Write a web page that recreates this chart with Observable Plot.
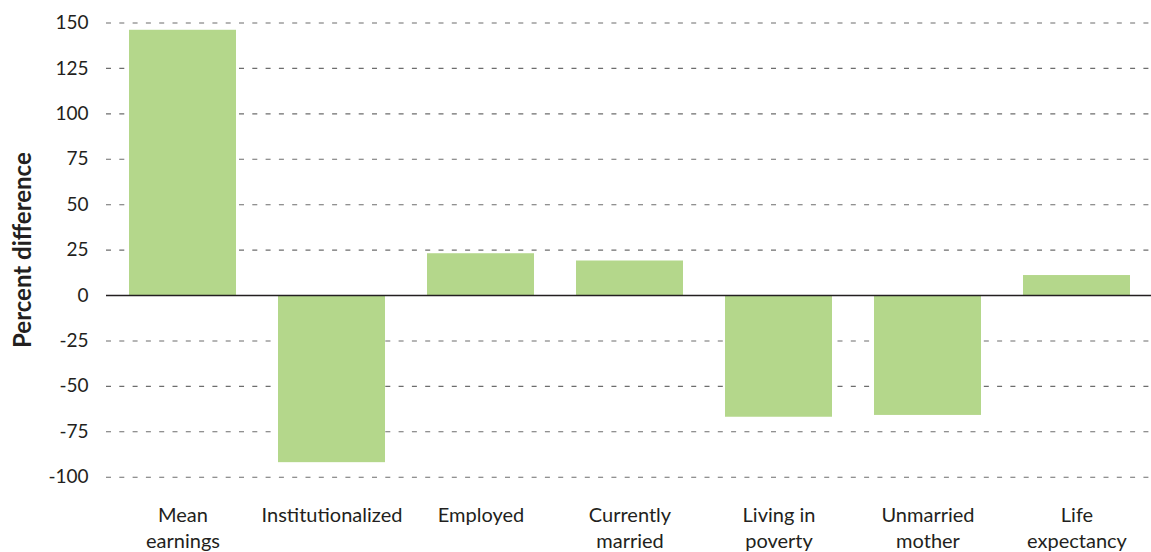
<!DOCTYPE html>
<html>
<head>
<meta charset="utf-8">
<script src="https://cdn.jsdelivr.net/npm/d3@7"></script>
<script src="https://cdn.jsdelivr.net/npm/@observablehq/plot@0.6"></script>
<style>
  html, body { margin: 0; padding: 0; background: #fff; }
  #chart svg { display: block; }
</style>
</head>
<body>
<div id="chart"></div>
<script>
const categories = ["Mean\nearnings", "Institutionalized", "Employed", "Currently\nmarried", "Living in\npoverty", "Unmarried\nmother", "Life\nexpectancy"];
const values = [146, -92, 23, 19, -67, -66, 11];
const yTicks = [-100, -75, -50, -25, 0, 25, 50, 75, 100, 125, 150];
const gridTicks = yTicks.filter(d => d !== 0);

const data = categories.map((c, i) => ({category: c, value: values[i]}));

const chart = Plot.plot({
  width: 1151,
  height: 552,
  marginTop: 22.5,
  marginBottom: 75.3,
  marginLeft: 106,
  marginRight: -3,
  style: {fontFamily: "Lato, 'Open Sans', sans-serif", fontSize: "18px", color: "#231f20", background: "#fff"},
  x: {domain: categories, paddingInner: 0.28, paddingOuter: 0.14, label: null},
  y: {domain: [-100, 150], label: null},
  marks: [
    Plot.ruleY(gridTicks, {stroke: "#6d6d6d", strokeWidth: 1.1, strokeDasharray: "5,8.3"}),
    Plot.barY(data, {x: "category", y: "value", fill: "#b4d78b"}),
    Plot.ruleY([0], {stroke: "#231f20", strokeWidth: 1.5}),
    Plot.axisY(yTicks, {tickSize: 0, tickPadding: 18, tickFormat: d => String(d), fontSize: 19, label: null}),
    Plot.axisX({tickSize: 0, tickPadding: 26, fontSize: 20, lineHeight: 1.3, label: null}),
    Plot.text(["Percent difference"], {frameAnchor: "left", textAnchor: "middle", dx: -83, rotate: -90, fontSize: 24, fontWeight: "bold", fill: "#231f20"})
  ]
});
document.getElementById("chart").appendChild(chart);
</script>
</body>
</html>
